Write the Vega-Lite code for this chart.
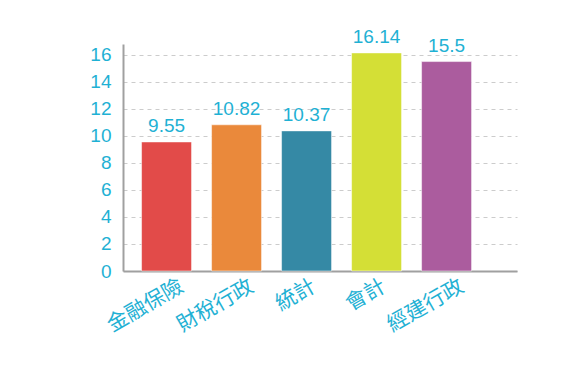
{
  "$schema": "https://vega.github.io/schema/vega-lite/v6.json",
  "autosize": "none",
  "padding": {"left": 123, "top": 44, "right": 66, "bottom": 110},
  "width": 394,
  "height": 227,
  "background": "#ffffff",
  "config": {"view": {"stroke": null}},
  "data": {"values": [
    {"cat": "金融保險", "v": 9.55, "c": "#e24b49"},
    {"cat": "財稅行政", "v": 10.82, "c": "#ea893b"},
    {"cat": "統計", "v": 10.37, "c": "#3589a5"},
    {"cat": "會計", "v": 16.14, "c": "#d4df36"},
    {"cat": "經建行政", "v": 15.5, "c": "#ab5c9e"}
  ]},
  "encoding": {
    "x": {"field": "cat", "type": "nominal", "sort": null,
      "scale": {"paddingInner": 0.286, "paddingOuter": 0.457, "align": 0.29},
      "axis": {"title": null, "labelAngle": -30, "labelAlign": "right", "labelBaseline": "top",
        "labelFont": "Noto Sans CJK TC", "labelFontSize": 21, "labelColor": "#1fb1d4",
        "labelPadding": 4, "labelOffset": {"expr": "length(datum.label) > 2 ? 10 : 2"}, "ticks": false, "domainColor": "#a0a0a0", "domainWidth": 2}},
    "y": {"field": "v", "type": "quantitative",
      "scale": {"domain": [0, 16.8], "nice": false},
      "axis": {"title": null, "values": [0, 2, 4, 6, 8, 10, 12, 14, 16], "ticks": false,
        "labelFont": "Liberation Sans", "labelFontSize": 19, "labelColor": "#1fb1d4",
        "labelPadding": 12, "domainColor": "#a0a0a0", "domainWidth": 2,
        "grid": true, "gridColor": "#cccccc", "gridDash": [4, 4], "gridWidth": 1}}
  },
  "layer": [
    {"mark": {"type": "bar", "stroke": "#ffffff", "strokeOpacity": 0.5, "strokeWidth": 1},
     "encoding": {"color": {"field": "c", "type": "nominal", "scale": null}}},
    {"mark": {"type": "text", "baseline": "bottom", "dy": -6, "font": "Liberation Sans", "fontSize": 19, "color": "#1fb1d4"},
     "encoding": {"text": {"field": "v", "type": "quantitative"}}}
  ]
}
